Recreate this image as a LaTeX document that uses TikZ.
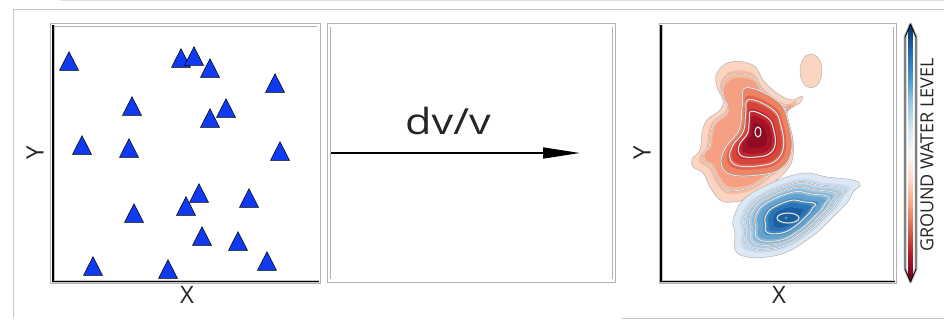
\documentclass[tikz,border=0pt]{standalone}
\usepackage{fontspec}
\setmainfont{Open Sans}
\usetikzlibrary{arrows.meta}
\definecolor{triblue}{RGB}{15,58,240}
\definecolor{rA}{HTML}{FCD5C2}
\definecolor{rB}{HTML}{F9BBA0}
\definecolor{rC}{HTML}{F5A083}
\definecolor{rD}{HTML}{EE8466}
\definecolor{rE}{HTML}{E6624C}
\definecolor{rF}{HTML}{D8433A}
\definecolor{rG}{HTML}{C22530}
\definecolor{rH}{HTML}{A81427}
\definecolor{rI}{HTML}{8E0B22}
\definecolor{bA}{HTML}{DCE9F4}
\definecolor{bB}{HTML}{C6DBEE}
\definecolor{bC}{HTML}{A8CDE4}
\definecolor{bD}{HTML}{88BADB}
\definecolor{bE}{HTML}{64A3CF}
\definecolor{bF}{HTML}{428BC2}
\definecolor{bG}{HTML}{2A74B5}
\definecolor{bH}{HTML}{1B5FA3}
\definecolor{cb0}{HTML}{67001F}
\definecolor{cb1}{HTML}{B2182B}
\definecolor{cb2}{HTML}{D6604D}
\definecolor{cb3}{HTML}{F4A582}
\definecolor{cb4}{HTML}{FDDBC7}
\definecolor{cb5}{HTML}{F7F7F7}
\definecolor{cb6}{HTML}{D1E5F0}
\definecolor{cb7}{HTML}{92C5DE}
\definecolor{cb8}{HTML}{4393C3}
\definecolor{cb9}{HTML}{2166AC}
\definecolor{cb10}{HTML}{053061}
\pgfdeclareverticalshading{rdbu}{20bp}{color(0bp)=(cb0); color(25bp)=(cb0); color(30bp)=(cb1); color(35bp)=(cb2); color(40bp)=(cb3); color(45bp)=(cb4); color(50bp)=(cb5); color(55bp)=(cb6); color(60bp)=(cb7); color(65bp)=(cb8); color(70bp)=(cb9); color(75bp)=(cb10); color(100bp)=(cb10)}
\begin{document}
\begin{tikzpicture}[x=1pt,y=-1pt,
  outerframe/.style={draw=gray!45, line width=0.7pt},
  panel/.style={draw=gray!60, line width=0.8pt, double=white, double distance=2.4pt},
  spine/.style={draw=black, line width=1.3pt, preaction={draw=gray!45, line width=3pt}},
  tri/.style={fill=triblue, draw=black, line width=0.5pt},
  cline/.style={draw=gray!70, line width=1.3pt, postaction={draw=white, line width=0.5pt}},
  edge/.style={draw=gray!60, line width=0.5pt},
  lab/.style={font=\fontsize{24}{26}\selectfont, text=black!85}
]
\useasboundingbox (0,0) rectangle (944,320);
% outer figure frame
\draw[outerframe] (13,9) -- (944,9);
\draw[outerframe, draw=gray!25] (60,0.6) -- (944,0.6);
\draw[outerframe] (13,9) -- (13,318);
\draw[outerframe] (622,318) -- (944,318);
% panels
\draw[panel] (52,25) rectangle (318.5,282);
\draw[spine] (53,25) -- (53,281.5) -- (318.5,281.5);
\draw[panel] (329,25.5) rectangle (614,280.5);
\draw[panel] (661,25.5) rectangle (895,282);
\draw[spine] (661,25) -- (661,281.5) -- (895,281.5);
% triangles
\foreach \x/\y in {69/61,181/58,194/56,210/68,275/83,132/106,226/108,210/118,82/145,129/148,280/151,199/193,249/198,186/206,134/213,202/236,238/241,267/261,93/266,168/269}
  \draw[tri] (\x-9.5,\y+9.3) -- (\x+9.5,\y+9.3) -- (\x,\y-9.3) -- cycle;
% arrow
\coordinate (arrS) at (331,153);
\coordinate (arrE) at (580,153);
\draw[line width=1.6pt, -{Triangle[length=37pt,width=11pt]}] (arrS) -- (arrE);
\node[font=\fontsize{36}{40}\selectfont, text=black!85] (dvv) at (448,121) {\scalebox{1.2}[1]{dv/v}};
% red blob: outer levels
\foreach \s/\c in {1/rA,0.88/rB,0.78/rC}
  \fill[\c, shift={(752,135)}, scale=\s, shift={(-752,-135)}] plot[smooth cycle, tension=0.65] coordinates {(730,62) (753,65) (763,80) (773,90) (783,97) (793,100) (802,96) (800,103) (790,108) (787,115) (790,127) (793,140) (793,157) (787,170) (773,183) (753,197) (733,202) (720,200) (710,187) (703,173) (693,167) (692,159) (700,150) (702,133) (707,120) (720,110) (723,100) (717,87) (717,73)};
\draw[edge] plot[smooth cycle, tension=0.65] coordinates {(730,62) (753,65) (763,80) (773,90) (783,97) (793,100) (802,96) (800,103) (790,108) (787,115) (790,127) (793,140) (793,157) (787,170) (773,183) (753,197) (733,202) (720,200) (710,187) (703,173) (693,167) (692,159) (700,150) (702,133) (707,120) (720,110) (723,100) (717,87) (717,73)};
\draw[cline, shift={(752,135)}, scale=0.83, shift={(-752,-135)}] plot[smooth cycle, tension=0.65] coordinates {(730,62) (753,65) (763,80) (773,90) (783,97) (793,100) (790,108) (787,115) (790,127) (793,140) (793,157) (787,170) (773,183) (753,197) (733,202) (720,200) (710,187) (703,173) (693,167) (692,159) (700,150) (702,133) (707,120) (720,110) (723,100) (717,87) (717,73)};
% red blob: inner levels
\foreach \s/\c in {1.05/rD,0.88/rE,0.74/rF,0.6/rG,0.45/rH,0.3/rI}
  \fill[\c, shift={(757,137)}, scale=\s, shift={(-757,-137)}] plot[smooth cycle, tension=0.7] coordinates {(747,90) (777,103) (787,123) (790,150) (780,167) (760,173) (733,173) (723,163) (727,147) (740,130) (743,107)};
\foreach \s in {1.05,0.8,0.55}
  \draw[cline, shift={(757,137)}, scale=\s, shift={(-757,-137)}] plot[smooth cycle, tension=0.7] coordinates {(747,90) (777,103) (787,123) (790,150) (780,167) (760,173) (733,173) (723,163) (727,147) (740,130) (743,107)};
\draw[cline] (758,132) ellipse[x radius=3, y radius=5];
% small red blob
\fill[rA] (811,71) ellipse[x radius=11, y radius=17];
\draw[edge] (811,71) ellipse[x radius=11, y radius=17];
% blue blob
\foreach \s/\c in {1/bA,0.87/bB,0.75/bC,0.64/bD,0.54/bE,0.44/bF,0.34/bG,0.24/bH}
  \fill[\c, shift={(786,218)}, scale=\s, shift={(-786,-218)}] plot[smooth cycle, tension=0.65] coordinates {(733,220) (743,200) (763,187) (787,177) (807,173) (827,177) (853,180) (860,185) (853,192) (847,203) (833,217) (820,230) (807,240) (787,252) (767,257) (747,257) (735,250) (735,233)};
\draw[edge] plot[smooth cycle, tension=0.65] coordinates {(733,220) (743,200) (763,187) (787,177) (807,173) (827,177) (853,180) (860,185) (853,192) (847,203) (833,217) (820,230) (807,240) (787,252) (767,257) (747,257) (735,250) (735,233)};
\foreach \s in {0.8,0.69,0.59,0.4}
  \draw[cline, shift={(786,218)}, scale=\s, shift={(-786,-218)}] plot[smooth cycle, tension=0.65] coordinates {(733,220) (743,200) (763,187) (787,177) (807,173) (827,177) (853,180) (860,185) (853,192) (847,203) (833,217) (820,230) (807,240) (787,252) (767,257) (747,257) (735,250) (735,233)};
\draw[cline] (788,218) ellipse[x radius=11, y radius=5];
\fill[gray!70] (786,218) circle[radius=1.2];
% colorbar
\draw[gray!45, line width=3pt, line join=round] (910.5,24) -- (916,37) -- (916,269) -- (910.5,282) -- (905,269) -- (905,37) -- cycle;
\shade[shading=rdbu] (910.5,24) -- (916,37) -- (916,269) -- (910.5,282) -- (905,269) -- (905,37) -- cycle;
\draw[black, line width=0.9pt, line join=round] (910.5,24) -- (916,37) -- (916,269) -- (910.5,282) -- (905,269) -- (905,37) -- cycle;
% labels
\node[lab, rotate=90] (yl) at (35,153) {Y};
\node[lab] (xl) at (187,295) {X};
\node[lab, rotate=90] (yr) at (642,153) {Y};
\node[lab] (xr) at (779,295) {X};
\node[rotate=90, font=\fontsize{18}{19}\selectfont, text=black!85] (cbl) at (927,155) {GROUND WATER LEVEL};
\end{tikzpicture}
\end{document}
